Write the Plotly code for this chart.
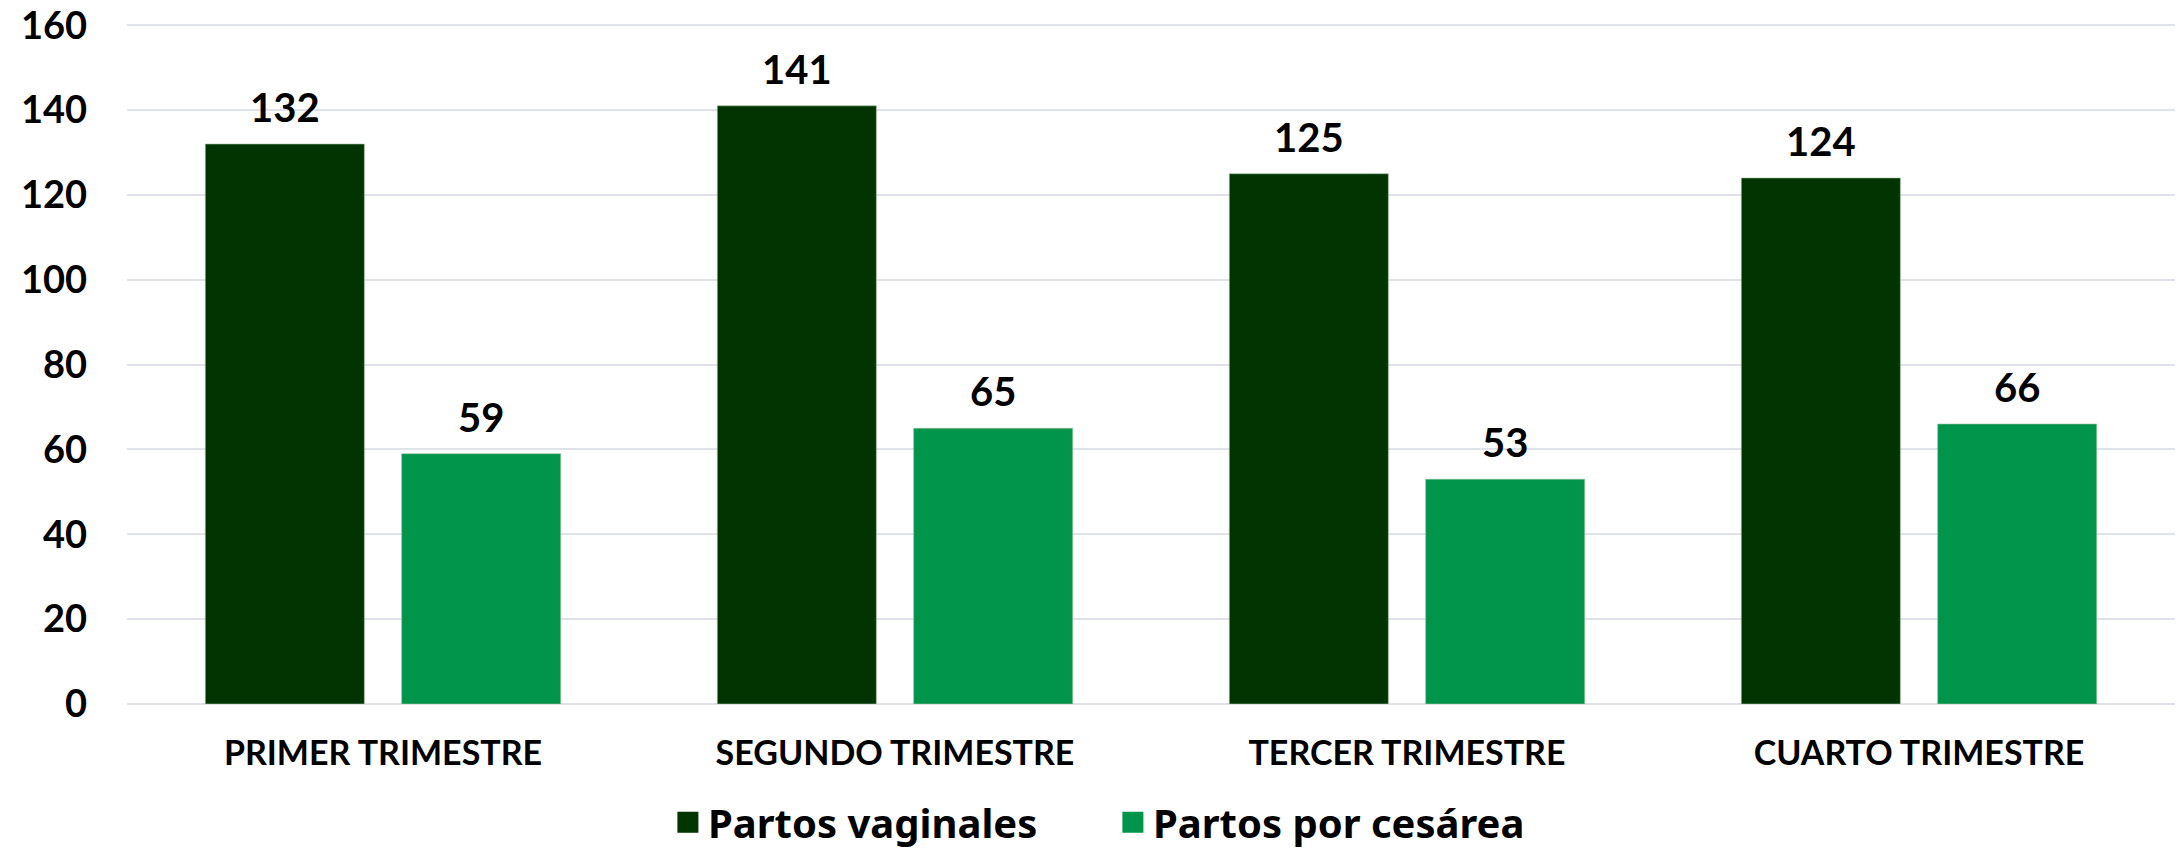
import plotly.graph_objects as go

categories = ["PRIMER TRIMESTRE", "SEGUNDO TRIMESTRE", "TERCER TRIMESTRE", "CUARTO TRIMESTRE"]
vaginales = [132, 141, 125, 124]
cesarea = [59, 65, 53, 66]
series_names = ["Partos vaginales", "Partos por cesárea"]
y_ticks = [0, 20, 40, 60, 80, 100, 120, 140, 160]

colors = ["#013401", "#00954A"]
NUM_FONT = "Lato, 'DejaVu Sans', sans-serif"
TXT_FONT = "Lato, sans-serif"
LEG_FONT = "'Noto Sans', sans-serif"

fig = go.Figure()
for name, vals, col in zip(series_names, [vaginales, cesarea], colors):
    fig.add_trace(go.Bar(
        name=name, x=categories, y=vals, showlegend=False, legendgroup=name,
        marker=dict(color=col, line=dict(color="rgba(160,190,160,0.6)", width=1)),
    ))
# legend entries (larger square swatches), no visible marks
for name, col in zip(series_names, colors):
    fig.add_trace(go.Scatter(
        name=name, x=[None], y=[None], mode="markers", legendgroup=name,
        marker=dict(symbol="square", size=16, color=col, line=dict(color=col, width=5)),
        hoverinfo="skip",
    ))

shift = 98
annotations = []
for vals, xs in zip([vaginales, cesarea], [-shift, shift]):
    for c, v in zip(categories, vals):
        annotations.append(dict(
            x=c, y=v, xref="x", yref="y", text=str(v), showarrow=False,
            yanchor="bottom", xshift=xs, yshift=11,
            font=dict(family=NUM_FONT, size=40, color="#000000", weight="bold"),
        ))

# page body has an 8px default margin, so the figure is offset by (8, 8)
fig.update_layout(
    width=2175, height=842,
    margin=dict(l=119, r=8, t=13, b=146, autoexpand=False),
    paper_bgcolor="white", plot_bgcolor="white",
    barmode="group", bargap=0.233, bargroupgap=0.19,
    annotations=annotations,
    showlegend=True,
    legend=dict(
        orientation="h", xref="container", yref="container",
        x=0.508, xanchor="center", y=0.033, yanchor="middle",
        font=dict(family=LEG_FONT, size=40, color="#000000", weight="bold"),
        itemsizing="trace", traceorder="normal", entrywidth=400,
    ),
)
fig.update_xaxes(
    range=[-0.5, 3.5], showgrid=False, showline=False, ticks="", automargin=False,
    tickfont=dict(family=TXT_FONT, size=34, color="#000000", weight="bold"),
    ticklabelstandoff=26, ticklabeloverflow="allow",
)
fig.update_yaxes(
    range=[0, 161], tickvals=y_ticks, showgrid=True, automargin=False,
    gridcolor="#DFE2E9", gridwidth=2, zeroline=True, zerolinecolor="#DFE2E9", zerolinewidth=2,
    ticks="", showline=False,
    tickfont=dict(family=NUM_FONT, size=38, color="#000000", weight="bold"),
    ticklabelstandoff=39, ticklabeloverflow="allow",
)

fig.write_html("out.html")
